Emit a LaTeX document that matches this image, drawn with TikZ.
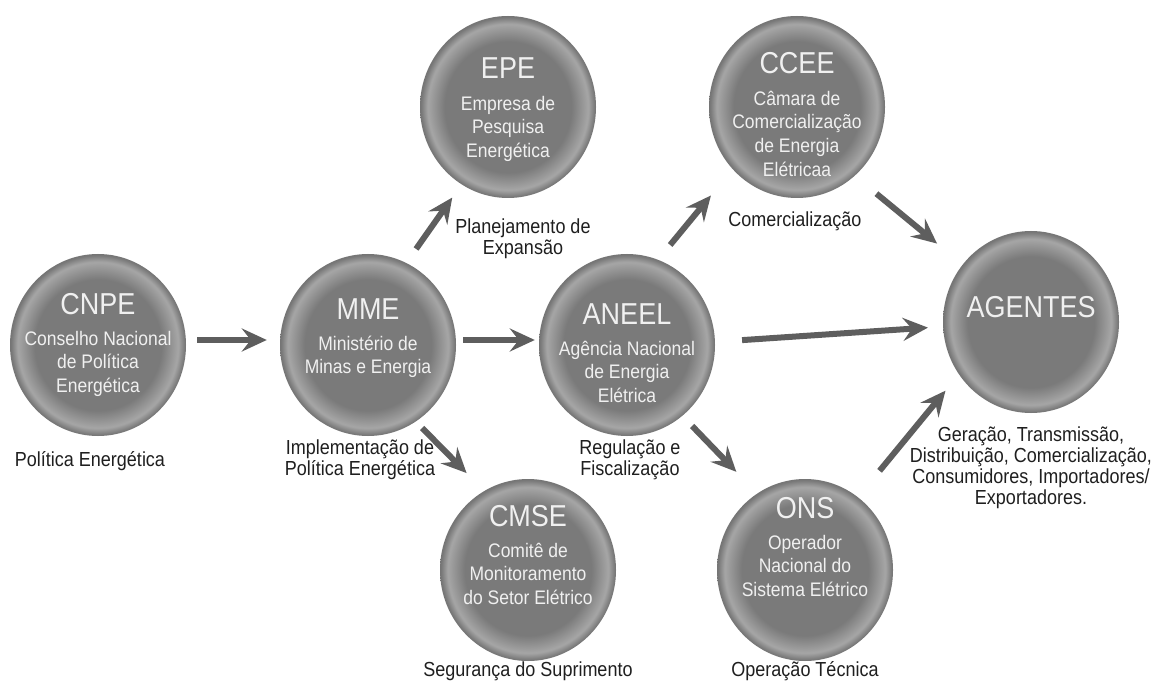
\documentclass[tikz,border=0pt]{standalone}
\usepackage{fontspec}
\setmainfont{Liberation Sans}
\usetikzlibrary{shapes.geometric}
\usetikzlibrary{arrows.meta}
\definecolor{bubgray}{HTML}{7A7A7A}
\definecolor{bubrim}{HTML}{A6A6A6}
\definecolor{flowgray}{HTML}{5E5E5E}
\pgfdeclareradialshading{bubshade}{\pgfpoint{0bp}{0bp}}{color(0bp)=(bubgray); color(18bp)=(bubgray); color(22.8bp)=(bubrim); color(24.6bp)=(bubgray); color(25bp)=(bubgray!95!black); color(50bp)=(bubgray!95!black)}
\newcommand{\bubtext}[3]{\makebox[0pt]{\raisebox{#1}[0pt][0pt]{\scalebox{1}[1.12]{\parbox[t]{172pt}{\centering\fontsize{27}{30}\selectfont #2\par\vspace{6.3pt}\fontsize{17.5}{21.4}\selectfont #3\par}}}}}
\newcommand{\tallbox}[1]{\scalebox{1}[1.13]{\begin{tabular}{@{}c@{}}#1\end{tabular}}}

\begin{document}
\begin{tikzpicture}[x=1pt, y=-1pt,
	bubble/.style={ellipse, minimum width=176pt, minimum height=182pt, inner sep=0pt, shade, shading=bubshade, text=white!94!black},
	flow/.style={draw=flowgray, line width=6pt, -{Stealth[length=25pt, width=23pt, inset=9pt]}},
	caption/.style={inner sep=0pt, text=black!88, font=\fontsize{18}{18.2}\selectfont}]
	\fill[white] (0,0) rectangle (1153,684);
	\useasboundingbox (0,0) rectangle (1153,684);
	\node[bubble] (cnpe) at (98,345) {\bubtext{31pt}{CNPE}{Conselho Nacional\\de Política\\Energética}};
	\node[bubble] (mme) at (368,345) {\bubtext{26pt}{MME}{Ministério de\\Minas e Energia}};
	\node[bubble] (aneel) at (627,345) {\bubtext{21pt}{ANEEL}{Agência Nacional\\de Energia\\Elétrica}};
	\node[bubble] (epe) at (508,107) {\bubtext{28pt}{EPE}{Empresa de\\Pesquisa\\Energética}};
	\node[bubble] (ccee) at (797,107) {\bubtext{33pt}{CCEE}{Câmara de\\Comercialização\\de Energia\\Elétricaa}};
	\node[bubble] (agentes) at (1031,322) {\bubtext{4pt}{AGENTES}{}};
	\node[bubble] (cmse) at (528,570) {\bubtext{44pt}{CMSE}{Comitê de\\Monitoramento\\do Setor Elétrico}};
	\node[bubble] (ons) at (805,570) {\bubtext{52pt}{ONS}{Operador\\Nacional do\\Sistema Elétrico}};
	\draw[flow, shorten <=11pt, shorten >=13pt] ([yshift=5pt]cnpe.east) -- ([yshift=5pt]mme.west);
	\draw[flow, shorten <=7pt, shorten >=4pt] ([yshift=5pt]mme.east) -- ([yshift=5pt]aneel.west);
	\draw[flow, shorten <=17pt, shorten >=16pt] (mme.65) -- (epe.239);
	\draw[flow, shorten <=9pt, shorten >=25pt] (mme.-58) -- (cmse.119);
	\draw[flow, shorten <=19pt, shorten >=34pt] (aneel.70) -- (ccee.224);
	\draw[flow, shorten <=14pt, shorten >=30pt] (aneel.-52) -- (ons.122);
	\draw[flow, shorten <=27pt, shorten >=15pt] (aneel.2) -- (agentes.183);
	\draw[flow, shorten <=28pt, shorten >=33pt] (ccee.-50) -- (agentes.140);
	\draw[flow, shorten <=34pt, shorten >=21pt] (ons.54) -- (agentes.216);
	\node[caption] (lpol) at (90,462) {\tallbox{Política Energética}};
	\node[caption] (limp) at (360,461) {\tallbox{Implementação de\\Política Energética}};
	\node[caption] (lplan) at (523,240) {\tallbox{Planejamento de\\Expansão}};
	\node[caption] (lcom) at (795,222) {\tallbox{Comercialização}};
	\node[caption] (lreg) at (630,461) {\tallbox{Regulação e\\Fiscalização}};
	\node[caption] (lseg) at (528,672) {\tallbox{Segurança do Suprimento}};
	\node[caption] (lope) at (805,672) {\tallbox{Operação Técnica}};
	\node[caption] (lage) at (1031,469) {\tallbox{Geração, Transmissão,\\Distribuição, Comercialização,\\Consumidores, Importadores/\\Exportadores.}};
\end{tikzpicture}
\end{document}
